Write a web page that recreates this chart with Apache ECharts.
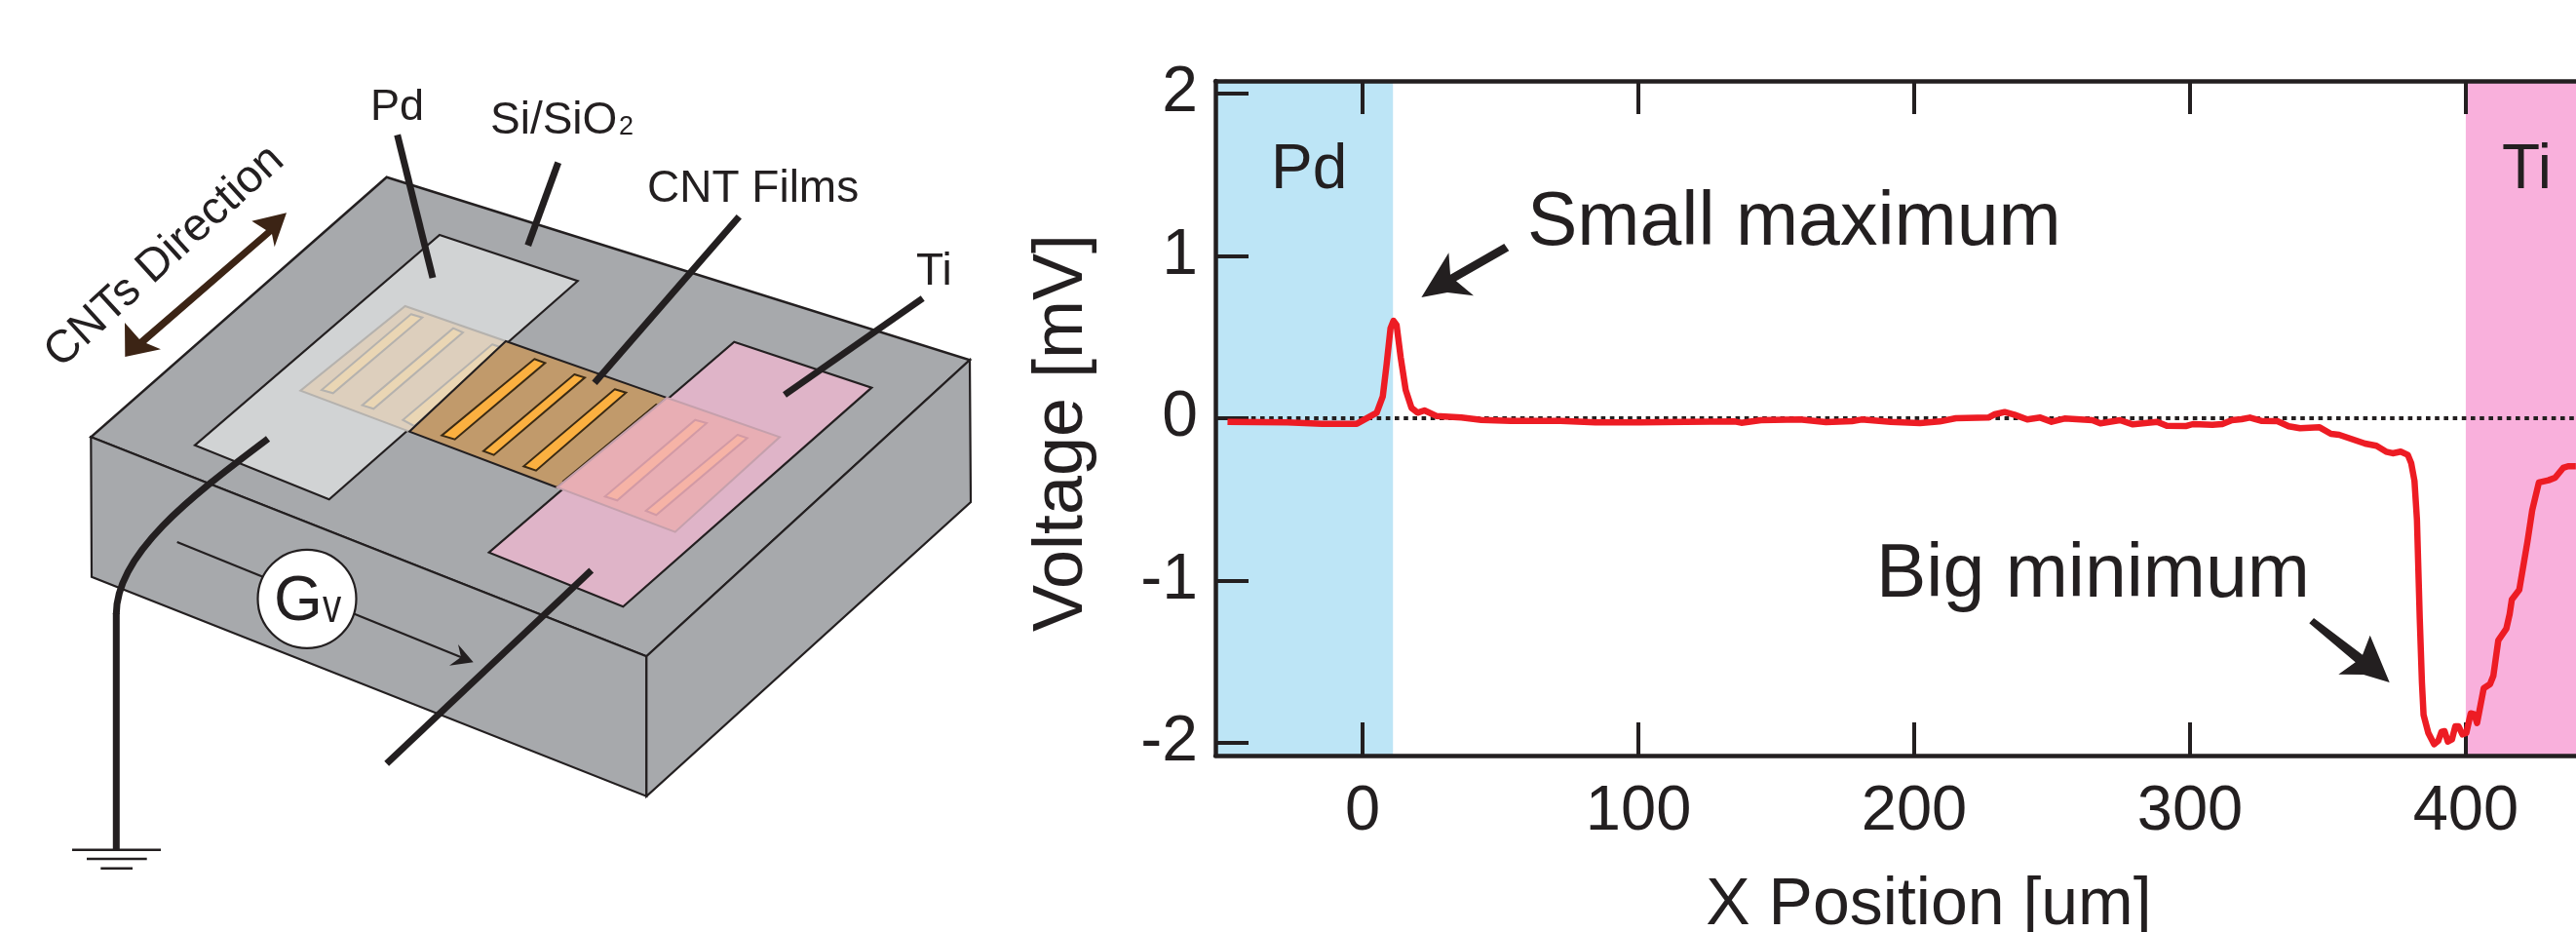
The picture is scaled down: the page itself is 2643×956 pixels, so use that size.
<!DOCTYPE html>
<html><head><meta charset="utf-8">
<style>html,body{margin:0;padding:0;background:#fff;overflow:hidden}#c{width:2643px;height:956px}</style>
<script src="https://cdn.jsdelivr.net/npm/echarts@6/dist/echarts.min.js"></script>
</head><body><div id="c"></div>
<script>
const positionUm = [-49,-27.3,-14.7,-2.1,1.9,5.1,7.3,8.7,10.1,11.2,12.3,13.8,15.6,17.7,19.9,22.4,26.7,35.8,43,53.8,71.8,84.4,100.6,117,
 135,137.3,144.4,158.5,168,177.4,180.9,191.5,202.1,209.2,215.1,226.9,229.2,232.8,236.3,241,245.7,249.8,254.5,264.6,267.5,274.6,279.3,288.1,291.6,298.7,301.1,308.1,311.7,315.2,
 318.7,321.7,325.8,331.7,335.8,339.9,347,351.1,354.1,363.5,367.6,371.1,373.5,376.4,379,380.2,381.4,382.3,383.3,384.1,384.7,386.4,388.5,390,391.2,392.3,393.5,395,396.2,397.4,398.8,400.2,401.8,403.1,404.1,406.5,408.8,410,411.8,414.7,415.9,416.7,419.4,422.4,424.1,426.5,430,432.4,435.3,437.1,439.9];
const voltageMv = [-0.022,-0.026,-0.034,-0.034,0.004,0.034,0.134,0.334,0.554,0.6,0.574,0.374,0.174,0.064,0.034,0.048,0.014,0.004,-0.01,-0.016,-0.016,-0.026,-0.026,-0.022,
 -0.02,-0.028,-0.012,-0.008,-0.024,-0.018,-0.008,-0.022,-0.03,-0.02,0,0.004,0.024,0.038,0.022,-0.008,0.004,-0.022,-0.002,-0.012,-0.032,-0.012,-0.038,-0.022,-0.046,-0.048,-0.036,-0.04,-0.036,-0.012,
 -0.006,0.004,-0.016,-0.018,-0.05,-0.062,-0.056,-0.096,-0.102,-0.156,-0.17,-0.206,-0.216,-0.206,-0.226,-0.276,-0.386,-0.626,-1.227,-1.628,-1.828,-1.938,-2.008,-1.988,-1.932,-1.928,-1.992,-1.978,-1.898,-1.898,-1.948,-1.938,-1.818,-1.824,-1.878,-1.664,-1.638,-1.587,-1.368,-1.297,-1.207,-1.117,-1.057,-0.757,-0.566,-0.396,-0.382,-0.366,-0.306,-0.296,-0.296];
const xTicks = [0,100,200,300,400];
const yTicks = [-2,-1,0,1,2];
const pdBand = [-53.4,11];
const tiBand = [400,464];
const zeroLine = [-53.4,464];

const INK = '#231f20';
const FF = '"Liberation Sans", Arial, sans-serif';
function poly(points, fill, stroke, lw){ return {type:'polygon',shape:{points},style:{fill:fill||'none',stroke:stroke||'none',lineWidth:lw||0,lineJoin:'miter'}}; }
function seg(x1,y1,x2,y2,lw,color){ return {type:'line',shape:{x1,y1,x2,y2},style:{stroke:color||INK,lineWidth:lw,lineCap:'butt'}}; }
function label(text,x,baseline,size,opt){
  return Object.assign({type:'text',x:x,y:baseline-0.305*size,style:{text,fontFamily:FF,fontSize:size,fill:INK,textAlign:'left',textVerticalAlign:'middle'}},opt||{});
}
const BOX='#a7a9ac';
const schematic = [
  poly([[396.7,181.7],[995,369.3],[663.3,673.3],[93.3,448.3]],BOX,INK,2.5),
  poly([[93.3,448.3],[663.3,673.3],[663.3,816.7],[94,591.7]],BOX,INK,2.2),
  poly([[663.3,673.3],[995,369.3],[996,515],[663.3,816.7]],BOX,INK,2.2),
  poly([[451,241],[592.7,288.3],[337.7,512.3],[200,456.7]],'#d1d3d4',INK,2.2),
  poly([[753.3,350.7],[894.3,397.7],[639.3,622.3],[501.7,566.7]],'#dfb4c8',INK,2.2),
  // film over Pd
  poly([[415.7,314],[519,350],[420,442.7],[308.3,400.7]],'#ddcfbd','#b5b2ae',2),
  poly([[421.7,322.3],[433.3,325.7],[341.7,403.3],[330,400]],'#ead6b4','#b5b2ae',2),
  poly([[465,336.7],[475,341],[383.3,419.3],[371.7,415.7]],'#ead6b4','#b5b2ae',2),
  poly([[505,353.3],[516,357],[425,437],[413.3,430.7]],'#ead6b4','#b5b2ae',2),
  // film over substrate
  poly([[519,350],[684.3,408],[571.7,500],[420,442.7]],'#c19a6b',INK,2),
  poly([[548.3,368.3],[559.3,372.3],[466.7,450.7],[453.3,446.7]],'#fbb040','#3a2a14',2),
  poly([[589.3,384],[600,387.3],[506.7,466.7],[496,462.7]],'#fbb040','#3a2a14',2),
  poly([[630.7,399.3],[642.3,402.7],[550,482.7],[537.3,478.3]],'#fbb040','#3a2a14',2),
  poly([[673.3,415],[676.7,417.3],[583.3,496],[578.3,493.3]],'#fbb040','#3a2a14',2),
  // film over Ti
  poly([[684.3,408],[800,448.3],[692.7,545.7],[571.7,500]],'#e8aeb4','#c5a0ac',2),
  poly([[713.3,430.7],[725,434],[633.3,513.3],[620.7,509.3]],'#f6b3a6','#d29aa5',2),
  poly([[756.7,446],[766.7,449.3],[673.3,528.3],[662.7,524]],'#f6b3a6','#d29aa5',2),
  // Gv
  seg(181.7,556,474,674.5,2.2),
  poly([[485.7,679.3],[470,661],[473,674],[461,682.7]],INK),
  {type:'circle',shape:{cx:315,cy:614.3,r:50.5},style:{fill:'#fff',stroke:INK,lineWidth:2.2}},
  label('G',281,638,64),
  label('v',331,639,48,{scaleX:.8,scaleY:1}),
  // leaders
  seg(407.7,138.3,444,285,7),
  seg(572.7,166.7,541.7,251.7,7),
  seg(758.3,222.3,610,392.7,7),
  seg(946.7,306,805,405,7),
  seg(606.7,585,396.7,783.3,7),
  // ground
  {type:'bezierCurve',shape:{x1:275,y1:450,cpx1:205,cpy1:503,cpx2:119.3,cpy2:565,x2:119.3,y2:630},style:{fill:'none',stroke:INK,lineWidth:7}},
  seg(119.3,629,119.3,872,7),
  seg(74,871.7,165,871.7,2.6),
  seg(89,881,150.7,881,2.6),
  seg(103.3,890.7,136,890.7,2.6),
  // direction arrow
  poly([[294,218.3],[258.3,226.7],[273,236],[143,348],[128,331],[128.3,366],[165,358.3],[150,352],[279,240],[281.7,253.3]],'#3c2415'),
  {type:'text',x:169,y:263.3,rotation:42.5*Math.PI/180,style:{text:'CNTs Direction',fontFamily:FF,fontSize:47,fill:INK,textAlign:'center',textVerticalAlign:'middle'}},
  label('Pd',380,124,45),
  label('Si/SiO',503,138.3,46),
  label('2',635,139,27),
  label('CNT Films',664,208,46),
  label('Ti',940,293,46),
];
const annotations = [
  label('Pd',1304,195,64),
  label('Ti',2567,195,64),
  label('Small maximum',1567,253,77),
  label('Big minimum',1925,614,77),
  poly([[1458.4,305],[1486.4,259.3],[1488,281.7],[1543.3,250],[1548.3,257.3],[1494,288.3],[1512,303.3],[1485,300]],INK),
  poly([[2451.7,700],[2431.7,651.7],[2424,671.7],[2374,634],[2369.3,639.3],[2416.7,679.3],[2399.3,691.7],[2425,692]],INK),
];

const chart = echarts.init(document.getElementById('c'),null,{renderer:'canvas'});
const axisCommon = {type:'value',min:pdBand[0],max:tiBand[1],splitLine:{show:false},z:5,
  axisLine:{show:true,onZero:false,lineStyle:{color:INK,width:4.5}},
  axisTick:{show:true,inside:true,length:34,customValues:xTicks,lineStyle:{color:INK,width:4}}};
chart.setOption({
  animation:false,
  backgroundColor:'#fff',
  textStyle:{fontFamily:FF},
  grid:{left:1247,top:83,width:1464,height:692,containLabel:false,outerBoundsMode:'none'},
  xAxis:[
    Object.assign({},axisCommon,{position:'bottom',name:'X Position [um]',nameLocation:'middle',nameGap:120,
      nameTextStyle:{fontFamily:FF,fontSize:68,color:INK},
      axisLabel:{show:true,customValues:xTicks,margin:26,fontFamily:FF,fontSize:65,color:INK}}),
    Object.assign({},axisCommon,{position:'top',axisLabel:{show:false}})
  ],
  yAxis:[{type:'value',min:-2.078,max:2.078,position:'left',splitLine:{show:false},z:5,
    name:'Voltage [mV]',nameLocation:'middle',nameGap:121,
    nameTextStyle:{fontFamily:FF,fontSize:72,color:INK,padding:[0,30,0,0]},
    axisLine:{show:true,onZero:false,lineStyle:{color:INK,width:4.5}},
    axisTick:{show:true,inside:true,length:34,customValues:yTicks,lineStyle:{color:INK,width:4}},
    axisLabel:{show:true,customValues:yTicks,margin:18,fontFamily:FF,fontSize:66,color:INK,padding:[10,0,0,0]}}],
  series:[
    {type:'line',z:1,silent:true,symbol:'none',data:[],
     markArea:{silent:true,itemStyle:{opacity:1},data:[
       [{xAxis:pdBand[0],itemStyle:{color:'#bde5f6'}},{xAxis:pdBand[1]}],
       [{xAxis:tiBand[0],itemStyle:{color:'#f9b0dc'}},{xAxis:tiBand[1]}]
     ]}},
    {type:'line',name:'zero',z:6,silent:true,symbol:'none',data:zeroLine.map(x=>[x,0]),
     lineStyle:{color:INK,width:4,type:[4.6,4.6]}},
    {type:'line',name:'Voltage',z:7,symbol:'none',smooth:false,clip:true,
     data:positionUm.map((x,i)=>[x,voltageMv[i]]),
     lineStyle:{color:'#ed1c24',width:6.5,join:'round'}}
  ],
  graphic:{elements:schematic.concat(annotations).map(e=>Object.assign({silent:true,z:20},e))}
});
</script></body></html>
